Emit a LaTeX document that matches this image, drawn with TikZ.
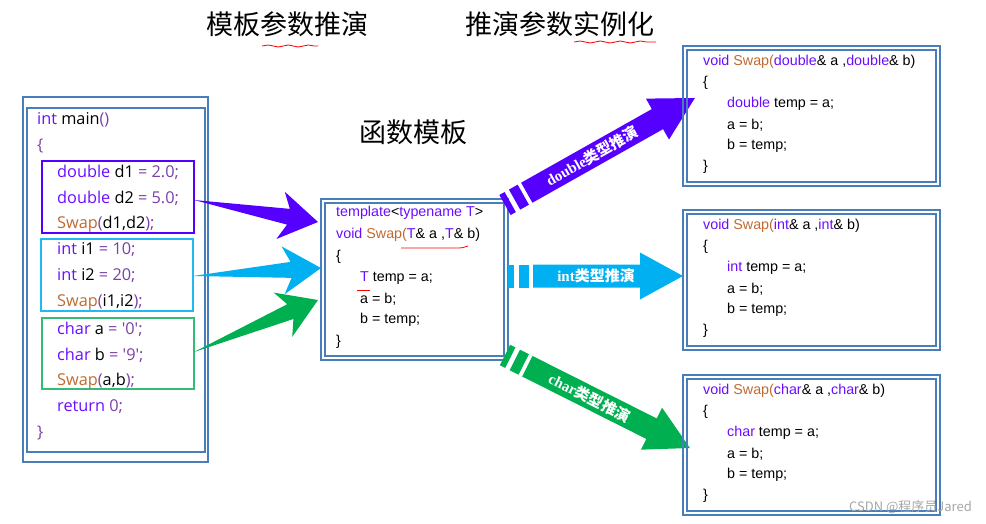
\documentclass[tikz,border=0pt]{standalone}
\usepackage{fontspec}
\setmainfont{Liberation Sans}
\newfontfamily\cjk{Noto Sans CJK SC}
\newfontfamily\codel{Open Sans}
\newfontfamily\lserif{Liberation Serif}
\usetikzlibrary{decorations.pathmorphing,calc}
\definecolor{kw}{HTML}{6A0DFF}
\definecolor{fn}{HTML}{C06A30}
\definecolor{nm}{HTML}{7A3FA8}
\definecolor{frame}{HTML}{4A7EBB}
\definecolor{apur}{HTML}{5500FF}
\definecolor{acy}{HTML}{00B0F0}
\definecolor{agr}{HTML}{00B050}
\definecolor{bcy}{HTML}{22B8F0}
\definecolor{bgr}{HTML}{33BB77}
\tikzset{
  fr/.style={draw=frame,line width=1.3pt},
  lc/.style={anchor=west,inner sep=0pt,font=\codel\fontsize{16.3}{16}\selectfont},
  rc/.style={anchor=west,inner sep=0pt,font=\fontsize{14.3}{14}\selectfont},
  ttl/.style={inner sep=0pt,font=\cjk\fontsize{27}{27}\selectfont},
  wav/.style={draw=red,line width=0.8pt,decorate,decoration={snake,amplitude=1pt,segment length=20pt}},
  albl/.style={text=white,font=\lserif\bfseries\fontsize{15}{15}\selectfont,inner sep=0pt}
}
\newcommand{\K}[1]{\textcolor{kw}{#1}}
\newcommand{\F}[1]{\textcolor{fn}{#1}}
\newcommand{\N}[1]{\textcolor{nm}{#1}}
\newcommand{\C}[1]{{\cjk #1}}
\begin{document}
\begin{tikzpicture}[x=1pt,y=-1pt]
\useasboundingbox (0,0) rectangle (986,524);
% titles
\node[ttl] (t1) at (287,24) {模板参数推演};
\node[ttl] (t2) at (560,24) {推演参数实例化};
\node[ttl] (t3) at (413,132) {函数模板};
\draw[wav] (262,46) -- (318,46);
\draw[wav] (574,42) -- (656,42);
% main box
\draw[fr] (23,97) rectangle (208,462);
\draw[fr] (27,108) rectangle (205,452);
\draw[draw=apur,line width=1.2pt] (42,161) rectangle (194,233);
\draw[draw=bcy,line width=1.2pt] (41,239) rectangle (193,311);
\draw[draw=bgr,line width=1.2pt] (42,318) rectangle (194,389);
\node[lc] (m1) at (37,120) {\K{int} main\N{()}};
\node[lc] (m2) at (37,146) {\N{\{}};
\node[lc] (m3) at (57,172) {\K{double} d1 \N{= 2.0;}};
\node[lc] (m4) at (57,198) {\K{double} d2 \N{= 5.0;}};
\node[lc] (m5) at (57,224) {\F{Swap}\N{(}d1,d2\N{);}};
\node[lc] (m6) at (57,250) {\K{int} i1 \N{= 10;}};
\node[lc] (m7) at (57,276) {\K{int} i2 \N{= 20;}};
\node[lc] (m8) at (57,302) {\F{Swap}\N{(}i1,i2\N{);}};
\node[lc] (m9) at (57,329) {\K{char} a \N{= '0';}};
\node[lc] (m10) at (57,355) {\K{char} b \N{= '9';}};
\node[lc] (m11) at (57,381) {\F{Swap}\N{(}a,b\N{);}};
\node[lc] (m12) at (57,407) {\K{return} \N{0;}};
\node[lc] (m13) at (37,433) {\N{\}}};
% template box
\draw[fr] (321,199) rectangle (508,360);
\draw[fr] (325,203) rectangle (504,356);
\node[rc] (s1) at (336,213) {\K{template}<\K{typename T}>};
\node[rc] (s2) at (336,235) {\K{void} \F{Swap(}\K{T}\& a ,\K{T}\& b)};
\node[rc] (s3) at (336,257) {\{};
\node[rc] (s4) at (360,278) {\K{T} temp = a;};
\node[rc] (s5) at (360,299) {a = b;};
\node[rc] (s6) at (360,320) {b = temp;};
\node[rc] (s7) at (336,342) {\}};
\draw[draw=red,line width=0.8pt] (401,248) -- (455,248) .. controls (462,248) .. (468,246);
\draw[draw=red,line width=0.8pt] (357,290) -- (370,290);
% left arrows
\foreach \a/\b/\c in {{194,200}/{318,222}/apur,{193,276}/{321,268}/acy,{194,352}/{318,300}/agr}{
  \path let \p1=(\a), \p2=(\b), \n1={veclen(\x2-\x1,\y2-\y1)}, \n2={atan2(\y2-\y1,\x2-\x1)} in
    [fill=\c] [shift={(\p1)},rotate=\n2] (0,0) -- (\n1-30,-8) -- (\n1-38,-24) -- (\n1,0) -- (\n1-38,24) -- (\n1-30,8) -- cycle;
}
% right arrows
\foreach \px/\py/\ang/\len/\col in {505/205/29.4/218/apur,508/276/0/175/acy,505/355/-26.7/207/agr}{
  \begin{scope}[shift={(\px,\py)},rotate=\ang]
    \fill[\col] (0,-11.5) rectangle (6,11.5);
    \fill[\col] (11,-11.5) rectangle (21,11.5);
    \fill[\col] (25,-11.5) -- (\len-43,-11.5) -- (\len-43,-23.5) -- (\len,0) -- (\len-43,23.5) -- (\len-43,11.5) -- (25,11.5) -- cycle;
  \end{scope}
}
\node[albl,rotate=29.4] (la) at ({505+100*cos(29.4)},{205-100*sin(29.4)}) {double\C{类型推演}};
\node[albl] (lb) at (596,276) {int\C{类型推演}};
\node[albl,rotate=-26.7] (lc) at ({505+95*cos(26.7)},{355+95*sin(26.7)}) {char\C{类型推演}};
% right boxes
\foreach \by/\ty/\nm in {46/double/a,210/int/b,375/char/c}{
  \draw[fr] (683,\by) rectangle (940,\by+140);
  \draw[fr] (687,\by+4) rectangle (936,\by+136);
  \node[rc] (\nm1) at (703,\by+16) {\K{void} \F{Swap(}\K{\ty}\& a ,\K{\ty}\& b)};
  \node[rc] (\nm2) at (703,\by+37) {\{};
  \node[rc] (\nm3) at (727,\by+58) {\K{\ty} temp = a;};
  \node[rc] (\nm4) at (727,\by+79) {a = b;};
  \node[rc] (\nm5) at (727,\by+100) {b = temp;};
  \node[rc] (\nm6) at (703,\by+121) {\}};
}
\node[anchor=east,text=gray!70,font=\cjk\fontsize{13}{13}\selectfont,inner sep=0pt] (wm) at (972,507) {CSDN @程序员Jared};
\end{tikzpicture}
\end{document}
